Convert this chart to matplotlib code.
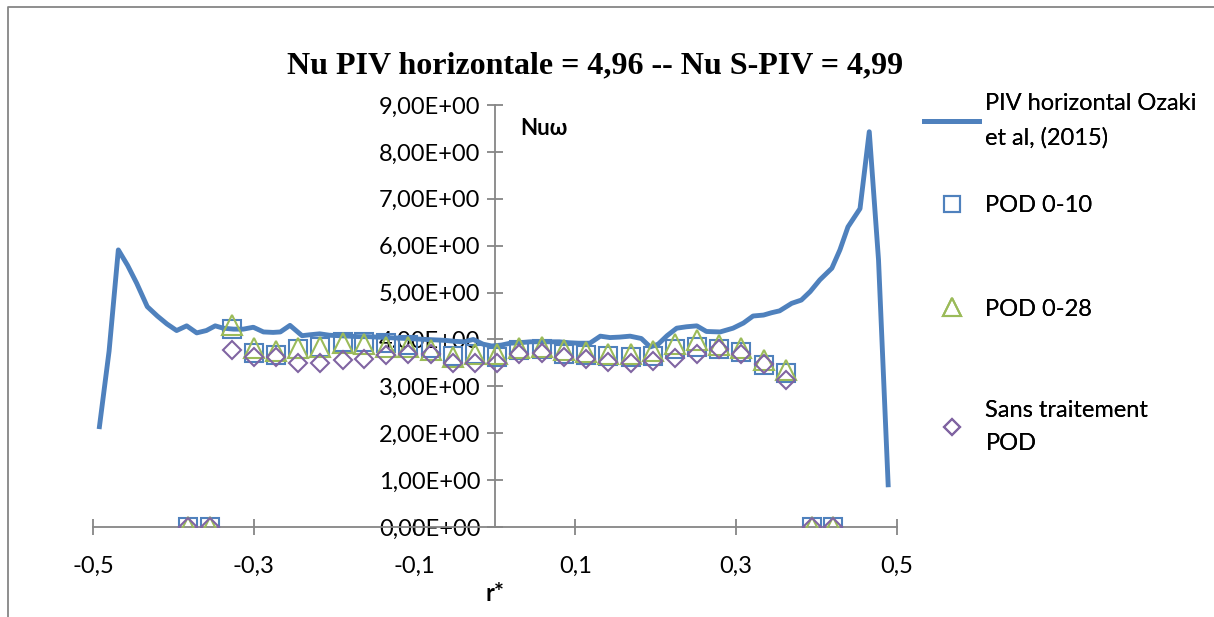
import numpy as np
import matplotlib.pyplot as plt
from matplotlib.ticker import FixedLocator, FuncFormatter
from matplotlib.lines import Line2D

# PIV horizontal Ozaki et al (2015) profile
piv_r = [-0.492, -0.480, -0.4685, -0.457, -0.4457, -0.4325, -0.420, -0.408, -0.396, -0.3835,
         -0.371, -0.359, -0.348, -0.338, -0.325, -0.313, -0.3006, -0.288, -0.276, -0.267,
         -0.255, -0.240, -0.230, -0.218, -0.206, -0.194, -0.182, -0.170, -0.158, -0.146,
         -0.134, -0.122, -0.110, -0.098, -0.086, -0.074, -0.062, -0.050, -0.038, -0.027,
         -0.015, -0.004, 0.008, 0.019, 0.031, 0.044, 0.056, 0.068, 0.080, 0.092,
         0.104, 0.118, 0.131, 0.143, 0.155, 0.168, 0.182, 0.193, 0.203, 0.214,
         0.226, 0.238, 0.251, 0.263, 0.280, 0.296, 0.309, 0.321, 0.334, 0.344,
         0.354, 0.369, 0.381, 0.392, 0.404, 0.419, 0.429, 0.439, 0.454, 0.4655,
         0.477, 0.489]
piv_nu = [2.14, 3.75, 5.91, 5.58, 5.20, 4.70, 4.50, 4.33, 4.19, 4.29,
          4.14, 4.19, 4.29, 4.24, 4.22, 4.22, 4.26, 4.16, 4.15, 4.16,
          4.30, 4.08, 4.10, 4.12, 4.09, 4.08, 4.07, 4.06, 4.06, 4.05,
          4.04, 4.03, 4.02, 4.01, 4.00, 3.99, 3.98, 3.96, 3.95, 4.00,
          3.90, 3.86, 3.88, 3.92, 3.93, 3.95, 3.95, 3.95, 3.95, 3.93,
          3.92, 3.92, 4.07, 4.04, 4.05, 4.07, 4.02, 3.84, 3.90, 4.08,
          4.24, 4.27, 4.29, 4.17, 4.16, 4.24, 4.35, 4.50, 4.52, 4.57,
          4.61, 4.77, 4.84, 5.02, 5.27, 5.52, 5.91, 6.40, 6.79, 8.43,
          5.70, 0.90]

# S-PIV points
pod_r = [-0.382, -0.355, -0.327, -0.300, -0.272, -0.245, -0.218, -0.189, -0.163, -0.135,
         -0.108, -0.080, -0.052, -0.025, 0.002, 0.030, 0.058, 0.086, 0.113, 0.141,
         0.169, 0.196, 0.224, 0.251, 0.279, 0.306, 0.334, 0.362, 0.394, 0.421]
pod_0_10 = [0, 0, 4.22, 3.72, 3.67, 3.79, 3.84, 3.95, 3.95, 3.92,
            3.88, 3.81, 3.65, 3.69, 3.63, 3.77, 3.79, 3.69, 3.67, 3.65,
            3.63, 3.65, 3.79, 3.84, 3.79, 3.74, 3.45, 3.28, 0, 0]
pod_0_28 = [0, 0, 4.31, 3.81, 3.76, 3.81, 3.84, 3.93, 3.90, 3.84,
            3.84, 3.78, 3.63, 3.69, 3.70, 3.81, 3.84, 3.77, 3.74, 3.69,
            3.69, 3.76, 3.90, 3.99, 3.88, 3.81, 3.56, 3.35, 0, 0]
sans_pod = [0, 0, 3.77, 3.63, 3.63, 3.49, 3.49, 3.56, 3.58, 3.67,
            3.69, 3.69, 3.49, 3.49, 3.49, 3.70, 3.72, 3.63, 3.58, 3.52,
            3.49, 3.55, 3.60, 3.70, 3.79, 3.69, 3.48, 3.13, 0, 0]

x_ticks = [-0.5, -0.3, -0.1, 0.1, 0.3, 0.5]
y_ticks = [0, 1, 2, 3, 4, 5, 6, 7, 8, 9]

BLUE = '#4F81BD'
GREEN = '#9BBB59'
PURPLE = '#8064A2'
GRAY = '#868686'

plt.rcParams['font.family'] = ['Lato', 'DejaVu Sans']

fig = plt.figure(figsize=(12.14, 6.17), dpi=100)
ax = fig.add_axes([93 / 1214, 1 - 527 / 617, (897 - 93) / 1214, (527 - 105) / 617])

ax.plot(piv_r, piv_nu, '-', color=BLUE, lw=3.5, solid_joinstyle='round', zorder=3)
ax.plot(pod_r, pod_0_10, 's', ls='none', ms=13, mfc='none', mec=BLUE, mew=1.5, zorder=4)
ax.plot(pod_r, pod_0_28, '^', ls='none', ms=14, mfc='none', mec=GREEN, mew=1.5, zorder=5)
ax.plot(pod_r, sans_pod, 'D', ls='none', ms=9.5, mfc='none', mec=PURPLE, mew=1.5, zorder=6)

ax.set_xlim(-0.5, 0.5)
ax.set_ylim(0, 9)
for s in ['top', 'right']:
    ax.spines[s].set_visible(False)
ax.spines['left'].set_position(('data', 0))
ax.spines['bottom'].set_position(('data', 0))
for s in ['left', 'bottom']:
    ax.spines[s].set_color(GRAY)
    ax.spines[s].set_linewidth(1.3)
ax.patch.set_visible(False)

ax.xaxis.set_major_locator(FixedLocator(x_ticks))
ax.yaxis.set_major_locator(FixedLocator(y_ticks))
ax.xaxis.set_major_formatter(FuncFormatter(lambda v, p: f"{v:.1f}".replace('.', ',')))
ax.yaxis.set_major_formatter(FuncFormatter(lambda v, p: f"{v:.2E}".replace('.', ',')))
ax.tick_params(axis='both', direction='inout', length=11, width=1.3, color=GRAY,
               labelsize=17, labelcolor='black')
ax.tick_params(axis='x', pad=15)
ax.tick_params(axis='y', pad=5)

ax.set_xlabel('r*', fontsize=17, fontweight='bold', labelpad=4)
ax.text(0.031, 8.5, 'Nuω', fontsize=16, fontweight='bold', ha='left', va='center')

fig.text(595 / 1214, 1 - 66 / 617, 'Nu PIV horizontale = 4,96 -- Nu S-PIV = 4,99',
         family='Liberation Serif', fontweight='bold', fontsize=23, ha='center', va='center')

# legend entries, placed one by one like the Excel layout
entries = [
    (Line2D([], [], color=BLUE, lw=3.5), 'PIV horizontal Ozaki\net al, (2015)', 121),
    (Line2D([], [], marker='s', ls='none', ms=12, mfc='none', mec=BLUE, mew=1.5), 'POD 0-10', 206),
    (Line2D([], [], marker='^', ls='none', ms=13, mfc='none', mec=GREEN, mew=1.5), 'POD 0-28', 309),
    (Line2D([], [], marker='D', ls='none', ms=8.5, mfc='none', mec=PURPLE, mew=1.5), 'Sans traitement\nPOD', 427),
]
for h, lab, yc in entries:
    leg = fig.legend([h], [lab], loc='center left', bbox_to_anchor=(924 / 1214, 1 - yc / 617),
                     frameon=False, fontsize=17, handlelength=2.35, handletextpad=0.25,
                     borderpad=0, borderaxespad=0)
    for t in leg.get_texts():
        t.set_linespacing(1.75)
    fig.add_artist(leg)

# chart frame (top and left edges visible)
fig.add_artist(Line2D([8 / 1214, 8 / 1214, 1.0], [0.0, 1 - 7 / 617, 1 - 7 / 617],
                      color=GRAY, lw=1.3, transform=fig.transFigure))

fig.savefig('out.png', dpi=100)
